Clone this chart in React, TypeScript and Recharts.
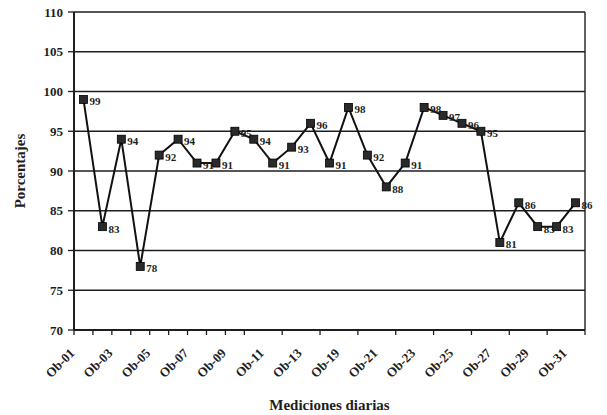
import React from "react";
import {
  LineChart,
  Line,
  XAxis,
  YAxis,
  CartesianGrid,
  LabelList,
} from "recharts";

const categories = [
  "Ob-01", "Ob-02", "Ob-03", "Ob-04", "Ob-05", "Ob-06", "Ob-07",
  "Ob-08", "Ob-09", "Ob-10", "Ob-11", "Ob-12", "Ob-13", "Ob-14",
  "Ob-19", "Ob-20", "Ob-21", "Ob-22", "Ob-23", "Ob-24", "Ob-25",
  "Ob-26", "Ob-27", "Ob-28", "Ob-29", "Ob-30", "Ob-31",
];

const porcentajes = [
  99, 83, 94, 78, 92, 94, 91, 91, 95, 94, 91, 93, 96, 91,
  98, 92, 88, 91, 98, 97, 96, 95, 81, 86, 83, 83, 86,
];

const yTicks = [70, 75, 80, 85, 90, 95, 100, 105, 110];

// pos = middle of each category slot, used only for the boundary tick marks axis
const data = categories.map((name, i) => ({ name, pos: i + 0.5, value: porcentajes[i] }));
const boundaryTicks = Array.from({ length: categories.length + 1 }, (_, i) => i);

const FONT = "'Liberation Serif', 'Times New Roman', serif";
const INK = "#1e1e1e";

const XTick = (props: any) => {
  const { x, y, payload } = props;
  return (
    <g transform={`translate(${x - 8},${y + 23})`}>
      <text
        x={0}
        y={0}
        transform="rotate(-45)"
        textAnchor="end"
        fontFamily={FONT}
        fontWeight="bold"
        fontSize={13}
        fill={INK}
      >
        {payload.value}
      </text>
    </g>
  );
};

const SquareDot = (props: any) => {
  const { cx, cy } = props;
  if (cx == null || cy == null) return null;
  return <rect x={cx - 4} y={cy - 4} width={8} height={8} fill="#2a2a2a" stroke="#000" strokeWidth={0.8} />;
};

export default function App() {
  return (
    <div style={{ position: "absolute", left: 0, top: 0, background: "#fff" }}>
      <LineChart
        width={607}
        height={415}
        data={data}
        margin={{ top: 12, right: 22, bottom: 17, left: 0 }}
      >
        <CartesianGrid
          xAxisId="names"
          stroke={INK}
          strokeWidth={1.4}
          vertical={true}
          verticalCoordinatesGenerator={({ offset }: any) => [offset.left + offset.width]}
        />
        <XAxis
          xAxisId="edges"
          type="number"
          dataKey="pos"
          domain={[0, categories.length]}
          ticks={boundaryTicks}
          allowDataOverflow
          height={1}
          tick={() => <g />}
          axisLine={{ stroke: INK, strokeWidth: 2 }}
          tickLine={{ stroke: INK, strokeWidth: 1.3 }}
          tickSize={5}
        />
        <XAxis
          xAxisId="names"
          dataKey="name"
          scale="band"
          interval={1}
          height={67}
          tickLine={false}
          tickSize={0}
          tickMargin={0}
          axisLine={false}
          tick={<XTick />}
          label={{
            value: "Mediciones diarias",
            position: "bottom",
            offset: 1,
            fontFamily: FONT,
            fontWeight: "bold",
            fontSize: 15,
            fill: INK,
          }}
        />
        <YAxis
          domain={[70, 110]}
          ticks={yTicks}
          width={74}
          tickSize={6}
          tickMargin={5}
          axisLine={{ stroke: INK, strokeWidth: 2 }}
          tickLine={{ stroke: INK, strokeWidth: 1.3 }}
          tick={{ fontFamily: FONT, fontWeight: "bold", fontSize: 13, fill: INK }}
          label={{
            value: "Porcentajes",
            angle: -90,
            position: "center",
            dx: -17,
            fontFamily: FONT,
            fontWeight: "bold",
            fontSize: 15,
            fill: INK,
          }}
        />
        <Line
          xAxisId="edges"
          dataKey="value"
          stroke="none"
          dot={false}
          activeDot={false}
          legendType="none"
          isAnimationActive={false}
        />
        <Line
          xAxisId="names"
          dataKey="value"
          stroke="#111"
          strokeWidth={2}
          dot={<SquareDot />}
          activeDot={false}
          isAnimationActive={false}
        >
          <LabelList
            dataKey="value"
            position="right"
            offset={6}
            dy={2}
            fontFamily={FONT}
            fontWeight="bold"
            fontSize={11}
            fill={INK}
          />
        </Line>
      </LineChart>
    </div>
  );
}
